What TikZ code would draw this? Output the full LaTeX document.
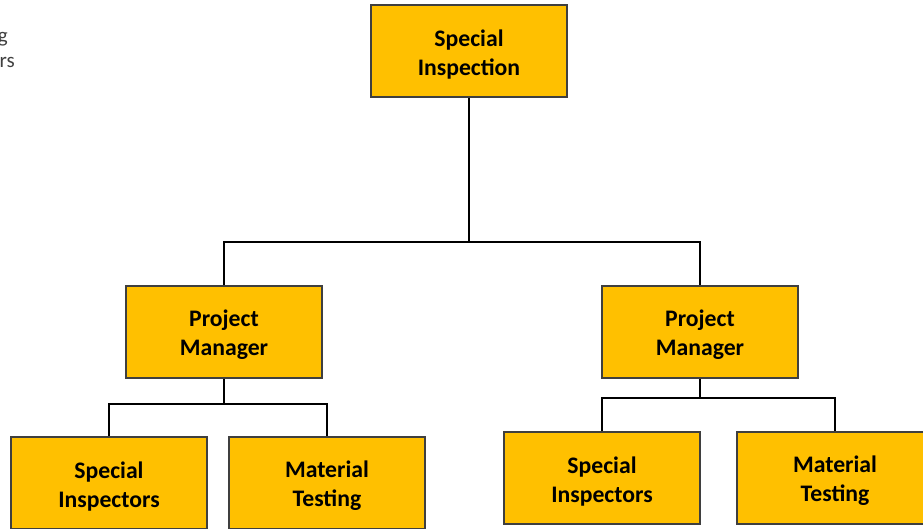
\documentclass[tikz,border=0pt]{standalone}
\usepackage{fontspec}
\setmainfont{Carlito}
\definecolor{boxfill}{HTML}{FFC000}
\definecolor{boxline}{HTML}{3F3F3F}
\definecolor{sidetext}{HTML}{404040}
\begin{document}
\begin{tikzpicture}[x=1pt,y=-1pt,
  orgbox/.style={draw=boxline, line width=1.3pt, fill=boxfill,
    minimum width=196pt, minimum height=92pt, inner sep=0pt,
    align=center, font=\fontsize{23.7}{29}\selectfont\bfseries,
    execute at begin node={\rule{0pt}{52pt}}},
  link/.style={draw=black, line width=2.4pt},
  side/.style={anchor=east, inner sep=0pt, text=sidetext,
    font=\fontsize{21}{25}\selectfont}]
\useasboundingbox (0,0) rectangle (923,529);

% chart boxes
\node[orgbox] (top) at (469,51) {Special\\Inspection};
\node[orgbox] (pmL) at (224,332) {Project\\Manager};
\node[orgbox] (pmR) at (700,332) {Project\\Manager};
\node[orgbox] (siL) at (109,483) {Special\\Inspectors};
\node[orgbox] (mtL) at (327,483) {Material\\Testing};
\node[orgbox] (siR) at (602,478) {Special\\Inspectors};
\node[orgbox] (mtR) at (835,478) {Material\\Testing};

% partly hidden side text
\node[side] (s1) at (8,39) {g};
\node[side] (s2) at (15,62) {rs};

% junction points
\coordinate (j0) at (469,242);
\coordinate (jL) at (224,404);
\coordinate (jR) at (700,398);

% connectors
\draw[link] (top.south) -- (j0);
\draw[link] (pmL.north) |- (j0) -| (pmR.north);
\draw[link] (pmL.south) -- (jL);
\draw[link] (siL.north) |- (jL) -| (mtL.north);
\draw[link] (pmR.south) -- (jR);
\draw[link] (siR.north) |- (jR) -| (mtR.north);
\end{tikzpicture}
\end{document}
